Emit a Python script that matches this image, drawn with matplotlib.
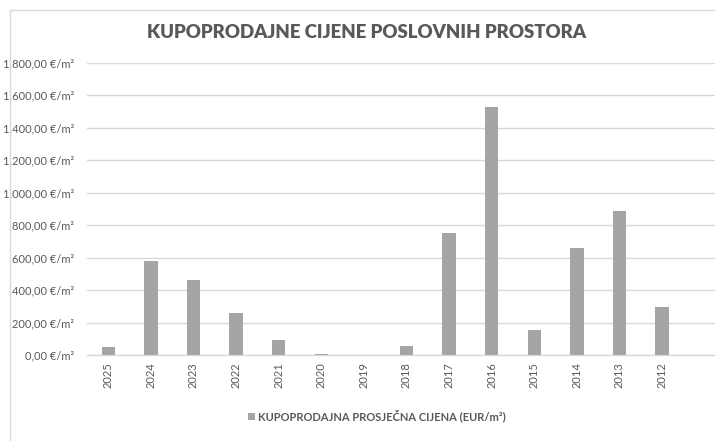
import matplotlib
matplotlib.use("Agg")
import matplotlib.pyplot as plt
from matplotlib.patches import Rectangle
from matplotlib.ticker import FuncFormatter

years = ["2025", "2024", "2023", "2022", "2021", "2020", "2019", "2018",
         "2017", "2016", "2015", "2014", "2013", "2012"]
prices = [51, 580, 461, 260, 92, 8, 0, 57, 752, 1529, 156, 658, 885, 295]
title = "KUPOPRODAJNE CIJENE POSLOVNIH PROSTORA"
series_name = "KUPOPRODAJNA PROSJEČNA CIJENA (EUR/m²)"
yticks = [0, 200, 400, 600, 800, 1000, 1200, 1400, 1600, 1800]

plt.rcParams['font.family'] = ['Lato', 'DejaVu Sans']
W, H = 715, 441
fig = plt.figure(figsize=(W / 100, H / 100), dpi=100)
fig.patch.set_facecolor("white")

# chart frame (cropped on right and bottom)
fig.patches.append(Rectangle((10 / W, -0.1), 1.2, (H - 10) / H + 0.1,
                             transform=fig.transFigure, fill=False,
                             edgecolor="#D9D9D9", linewidth=1.0))

left, right, top, bottom = 87, 715, 62.7, 355.3
ax = fig.add_axes([left / W, (H - bottom) / H, (right - left) / W, (bottom - top) / H])
x = list(range(len(years)))
ax.bar(x, prices, width=0.31, color="#A5A5A5", zorder=3)
ax.set_xlim(-0.5, -0.5 + (right - left) / 42.6)
ax.set_ylim(0, 1800)
ax.set_yticks(yticks)

def fmt(v, pos):
    s = f"{v:,.2f}".replace(",", "X").replace(".", ",").replace("X", ".")
    return f"{s} €/m²"

ax.yaxis.set_major_formatter(FuncFormatter(fmt))
ax.set_xticks(x)
ax.set_xticklabels(years, rotation=90)
ax.tick_params(axis="both", length=0, labelsize=8.0, colors="#595959")
ax.tick_params(axis="y", pad=9)
ax.tick_params(axis="x", pad=5)
ax.grid(axis="y", color="#D9D9D9", linewidth=1.0, zorder=0)
for s in ["top", "right", "left"]:
    ax.spines[s].set_visible(False)
ax.spines["bottom"].set_color("#D9D9D9")
ax.spines["bottom"].set_linewidth(1.0)
ax.set_facecolor("none")

fig.text(367 / W, (H - 33) / H, title, ha="center", va="center",
         fontsize=13.4, fontweight="heavy", color="#595959")

# legend
fig.patches.append(Rectangle((248 / W, (H - 420) / H), 7 / W, 7 / H,
                             transform=fig.transFigure, facecolor="#A5A5A5",
                             edgecolor="none"))
fig.text(258 / W, (H - 416) / H, series_name, ha="left", va="center",
         fontsize=8.0, fontweight="bold", color="#595959")

fig.savefig("out.png", dpi=100)
